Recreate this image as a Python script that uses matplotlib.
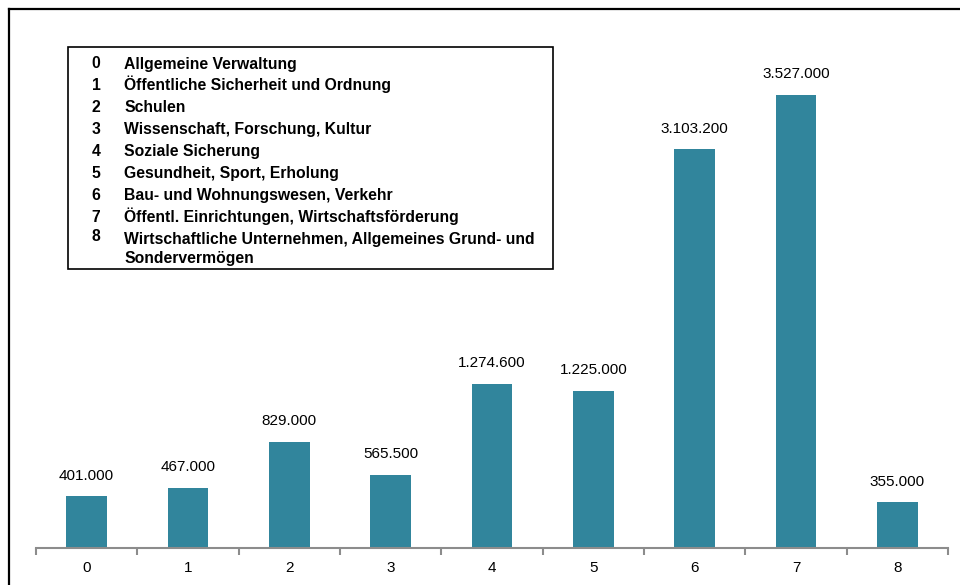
import matplotlib.pyplot as plt
from matplotlib.patches import Rectangle
from matplotlib.lines import Line2D

plt.rcParams['font.family'] = ['Liberation Sans', 'DejaVu Sans']

# Daten
kategorien = ['0', '1', '2', '3', '4', '5', '6', '7', '8']
werte = [401000, 467000, 829000, 565500, 1274600, 1225000, 3103200, 3527000, 355000]
bezeichnungen = [
    'Allgemeine Verwaltung',
    'Öffentliche Sicherheit und Ordnung',
    'Schulen',
    'Wissenschaft, Forschung, Kultur',
    'Soziale Sicherung',
    'Gesundheit, Sport, Erholung',
    'Bau- und Wohnungswesen, Verkehr',
    'Öffentl. Einrichtungen, Wirtschaftsförderung',
    'Wirtschaftliche Unternehmen, Allgemeines Grund- und\nSondervermögen',
]

W, H = 960, 585
fig = plt.figure(figsize=(W / 100, H / 100), dpi=100)

# Achse (Pixelangaben -> Figure-Koordinaten)
ax = fig.add_axes([36 / W, (H - 548) / H, (948 - 36) / W, (548 - 30) / H])
x = list(range(len(kategorien)))
ax.bar(x, werte, width=0.4, color='#31859C')
ax.set_xlim(-0.5, 8.5)
ax.set_ylim(0, 3527000 * 518 / 453)

for xi, v in zip(x, werte):
    txt = f'{v:,}'.replace(',', '.')
    ax.annotate(txt, (xi, v), xytext=(0, 10), textcoords='offset points',
                ha='center', va='bottom', fontsize=11)

ax.set_xticks([i - 0.5 for i in range(len(kategorien) + 1)], minor=False)
ax.set_xticklabels([])
ax.set_xticks(x, minor=True)
ax.set_xticklabels(kategorien, minor=True, fontsize=11)
ax.tick_params(axis='x', which='major', length=5, width=1.5, color='#8c8c8c', direction='out')
ax.tick_params(axis='x', which='minor', length=0, pad=9)
ax.set_yticks([])
for s in ['top', 'right', 'left']:
    ax.spines[s].set_visible(False)
ax.spines['bottom'].set_color('#8c8c8c')
ax.spines['bottom'].set_linewidth(1.5)

# Rahmen oben und links
fig.add_artist(Line2D([9 / W, 1], [1 - 9 / H, 1 - 9 / H], color='black', lw=1.6))
fig.add_artist(Line2D([9 / W, 9 / W], [0, 1 - 9 / H], color='black', lw=1.6))

# Legendenkasten
fig.add_artist(Rectangle((68 / W, 1 - 269 / H), (553 - 68) / W, (269 - 47) / H,
                         transform=fig.transFigure, fill=False, ec='black', lw=1.2))
for i, (k, b) in enumerate(zip(kategorien, bezeichnungen)):
    y = 63 + i * 21.9 + 5.5  # Grundlinie
    if '\n' in b:
        fig.text(96 / W, 1 - (y - 3) / H, k, ha='center', va='baseline',
                 fontsize=11.3, fontweight='bold')
        zeilen = b.split('\n')
        for j, z in enumerate(zeilen):
            fig.text(124 / W, 1 - (y + j * 19) / H, z, ha='left', va='baseline',
                     fontsize=11.3, fontweight='bold')
    else:
        fig.text(96 / W, 1 - y / H, k, ha='center', va='baseline',
                 fontsize=11.3, fontweight='bold')
        fig.text(124 / W, 1 - y / H, b, ha='left', va='baseline',
                 fontsize=11.3, fontweight='bold')

fig.savefig('out.png', dpi=100)
